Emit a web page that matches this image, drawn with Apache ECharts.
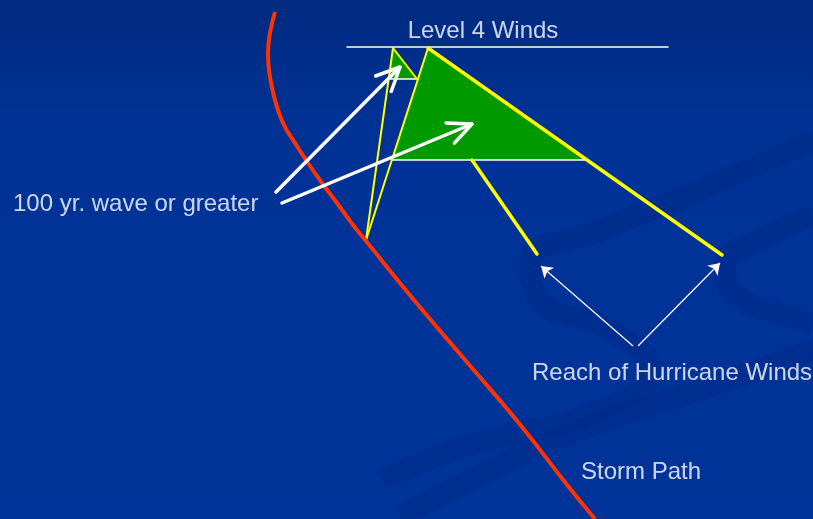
<!DOCTYPE html>
<html>
<head>
<meta charset="utf-8">
<title>Storm Path</title>
<script src="https://cdn.jsdelivr.net/npm/echarts@6/dist/echarts.min.js"></script>
<style>
  html, body { margin: 0; padding: 0; }
  #main { width: 813px; height: 519px; }
</style>
</head>
<body>
<div id="main"></div>
<script>
// all points are in diagram units (0..813 across, 0..519 down)
var stormPath = [[275, 12], [270, 33], [268, 54], [270, 77], [275, 100], [283, 123], [295, 143], [308, 163], [322, 183], [337, 203], [353, 225], [366, 241], [414, 300], [466, 361], [518, 422], [568, 486], [595, 519]]
var levelLine = [[347, 47], [668, 47]]
var bigZone = [[428, 48], [586, 160], [392, 160]]
var smallZone = [[393, 48], [417, 79], [389, 79]]
var zoneBases = [[[389, 79], [417, 79]], [[392, 160], [586, 160]]]
var thinYellow = [[[393, 48], [366, 240]], [[393, 48], [417, 79]], [[428, 48], [366, 240]]]
var thickYellow = [[[428, 48], [722, 255]], [[472, 160], [537, 254]]]
var waveArrows = [[[276, 192], [400, 67]], [[282, 203], [472, 124]]]
var reachArrows = [[[633, 346], [541, 266]], [[638, 346], [720, 263]]]
var labels = ['Level 4 Winds', '100 yr. wave or greater', 'Reach of Hurricane Winds', 'Storm Path']
var labelPos = [[483, 31], [13, 204], [532, 373], [581, 472]]
var labelAlign = ['center', 'left', 'left', 'left']
var swirls = [
  [[813, 140], [700, 190], [600, 230], [530, 262], [540, 300], [610, 330], [650, 370], [600, 410], [470, 445], [380, 480]],
  [[813, 215], [760, 240], [725, 265], [735, 295], [800, 320], [813, 325]],
  [[813, 350], [700, 390], [580, 430], [450, 490], [400, 519]]
]

var chart = echarts.init(document.getElementById('main'))

function seg(data, color, width, z) {
  return {
    type: 'line',
    data: data,
    symbol: 'none',
    silent: true,
    z: z || 2,
    lineStyle: { color: color, width: width, cap: 'round' }
  }
}

// open chevron at the end of an arrow, taken from the arrow's own direction
function chevron(a) {
  var p = a[1]
  var ang = Math.atan2(a[0][1] - p[1], a[0][0] - p[0])
  var len = 26
  var spread = 25 * Math.PI / 180
  return [
    [p[0] + len * Math.cos(ang + spread), p[1] + len * Math.sin(ang + spread)],
    p,
    [p[0] + len * Math.cos(ang - spread), p[1] + len * Math.sin(ang - spread)]
  ]
}

var series = []

swirls.forEach(function(s) {
  series.push({
    type: 'line', data: s, smooth: 0.5, symbol: 'none', silent: true, z: 1,
    lineStyle: { color: 'rgba(0, 30, 110, 0.16)', width: 22 }
  })
})

series.push({
  type: 'custom',
  z: 2,
  silent: true,
  data: [[0], [1]],
  renderItem: function(params, api) {
    var shape = params.dataIndex === 0 ? bigZone : smallZone
    return {
      type: 'polygon',
      shape: { points: shape.map(function(p) { return api.coord(p) }) },
      style: { fill: '#009900' }
    }
  }
})

zoneBases.forEach(function(d) { series.push(seg(d, '#ffffff', 1.5, 3)) })
series.push(seg(levelLine, '#ffffff', 1.5, 3))
thinYellow.forEach(function(d) { series.push(seg(d, '#ffff00', 2, 4)) })
thickYellow.forEach(function(d) { series.push(seg(d, '#ffff00', 3.5, 4)) })

series.push({
  type: 'line', data: stormPath, smooth: 0.5, symbol: 'none', silent: true, z: 5,
  lineStyle: { color: '#ff3300', width: 4 }
})

waveArrows.forEach(function(a) {
  series.push(seg(a, '#ffffff', 3.5, 6))
  series.push(seg(chevron(a), '#ffffff', 3.5, 6))
})

series.push({
  type: 'lines',
  coordinateSystem: 'cartesian2d',
  z: 6,
  silent: true,
  symbol: ['none', 'arrow'],
  symbolSize: 11,
  lineStyle: { color: '#ffffff', width: 1.2, opacity: 1 },
  data: reachArrows.map(function(a) { return { coords: a } })
})

series.push({
  type: 'scatter',
  z: 7,
  silent: true,
  symbolSize: 0,
  data: labels.map(function(t, i) {
    return {
      value: labelPos[i],
      name: t,
      label: { align: labelAlign[i] }
    }
  }),
  label: {
    show: true,
    position: [0, 0],
    verticalAlign: 'middle',
    formatter: '{b}',
    color: '#ffffff',
    fontFamily: 'Liberation Sans',
    fontSize: 24
  }
})

chart.setOption({
  animation: false,
  backgroundColor: new echarts.graphic.LinearGradient(0, 0, 0, 1, [
    { offset: 0, color: '#002a80' },
    { offset: 0.25, color: '#003296' },
    { offset: 1, color: '#003399' }
  ]),
  grid: { left: 0, right: 0, top: 0, bottom: 0 },
  xAxis: { type: 'value', min: 0, max: 813, show: false },
  yAxis: { type: 'value', min: 0, max: 519, inverse: true, show: false },
  series: series
})
</script>
</body>
</html>
